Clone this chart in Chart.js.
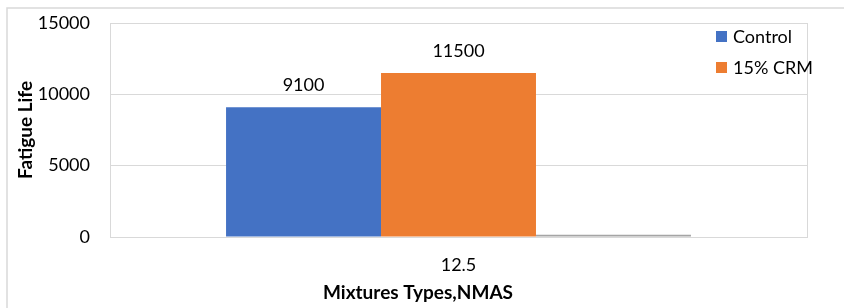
<!DOCTYPE html>
<html>
<head>
<meta charset="utf-8">
<title>Fatigue Life</title>
<script src="https://cdn.jsdelivr.net/npm/chart.js@4"></script>
<style>
  html, body { margin: 0; padding: 0; background: #fff; }
  canvas { display: block; }
</style>
</head>
<body>
<canvas id="chart" width="844" height="308"></canvas>
<script>
const categories = ['12.5'];
const seriesNames = ['Control', '15% CRM', ''];
const controlValues = [9100];
const crmValues = [11500];
const thirdValues = [150]; // barely visible grey bar sitting on the axis
const yTicks = [0, 5000, 10000, 15000];
const xTitle = 'Mixtures Types,NMAS';
const yTitle = 'Fatigue Life';

const colors = ['#4472c4', '#ed7d31', '#a5a5a5'];
const fontFamily = 'Lato, "Open Sans", sans-serif';

// value labels above the first two bars
const barLabels = {
  id: 'barLabels',
  afterDatasetsDraw(chart) {
    const ctx = chart.ctx;
    ctx.save();
    ctx.font = '18px ' + fontFamily;
    ctx.fillStyle = '#000';
    ctx.textAlign = 'center';
    ctx.textBaseline = 'middle';
    [0, 1].forEach(i => {
      chart.getDatasetMeta(i).data.forEach((bar, j) => {
        const v = chart.data.datasets[i].data[j];
        ctx.fillText(v, bar.x, bar.y - 22);
      });
    });
    ctx.restore();
  }
};

// legend drawn inside the plot, top right, plus the x title
// (the x title is centred on the whole chart box, not on the plot)
const insideLegend = {
  id: 'insideLegend',
  afterDraw(chart) {
    const ctx = chart.ctx;
    ctx.save();
    ctx.font = '18px ' + fontFamily;
    ctx.textBaseline = 'middle';
    ctx.textAlign = 'left';
    [0, 1].forEach(i => {
      const y = 37 + i * 31;
      ctx.fillStyle = colors[i];
      ctx.fillRect(716, y - 6, 11, 11);
      ctx.fillStyle = '#000';
      ctx.fillText(seriesNames[i], 733, y);
    });
    ctx.font = 'bold 19px ' + fontFamily;
    ctx.textAlign = 'center';
    ctx.fillText(xTitle, 418, 293);
    ctx.restore();
  }
};

// outer chart frame (only top and left edges fall inside the picture)
const outerFrame = {
  id: 'outerFrame',
  beforeDraw(chart) {
    const ctx = chart.ctx;
    ctx.save();
    ctx.strokeStyle = '#d9d9d9';
    ctx.lineWidth = 1.5;
    ctx.beginPath();
    ctx.moveTo(7, 308);
    ctx.lineTo(7, 8);
    ctx.lineTo(844, 8);
    ctx.stroke();
    ctx.restore();
  }
};

new Chart(document.getElementById('chart'), {
  type: 'bar',
  data: {
    labels: categories,
    datasets: [
      { label: seriesNames[0], data: controlValues, backgroundColor: colors[0] },
      { label: seriesNames[1], data: crmValues, backgroundColor: colors[1] },
      { label: seriesNames[2], data: thirdValues, backgroundColor: colors[2] }
    ]
  },
  options: {
    responsive: false,
    animation: false,
    categoryPercentage: 0.667,
    barPercentage: 1,
    layout: { padding: { left: 0, right: 37, top: 23, bottom: 0 } },
    plugins: {
      legend: { display: false },
      tooltip: { enabled: false }
    },
    scales: {
      x: {
        grid: { color: '#d9d9d9', offset: true, drawTicks: false },
        border: { color: '#d9d9d9' },
        ticks: { color: '#000', font: { family: fontFamily, size: 18 }, padding: 17 },
        afterFit(scale) {
          scale.height = 71;
          scale.paddingLeft = 0;
          scale.paddingRight = 0;
        }
      },
      y: {
        min: 0,
        max: 15000,
        afterBuildTicks(scale) { scale.ticks = yTicks.map(v => ({ value: v })); },
        grid: { color: '#d9d9d9', drawTicks: false },
        border: { color: '#d9d9d9' },
        ticks: {
          color: '#000',
          font: { family: fontFamily, size: 18 },
          padding: 20,
          callback: v => String(v)
        },
        title: {
          display: true,
          text: yTitle,
          color: '#000',
          font: { family: fontFamily, size: 19, weight: 'bold' },
          padding: { top: 14, bottom: 0 }
        },
        afterFit(scale) {
          scale.width = 110;
          scale.paddingTop = 0;
          scale.paddingBottom = 0;
        }
      }
    }
  },
  plugins: [outerFrame, barLabels, insideLegend]
});
</script>
</body>
</html>
